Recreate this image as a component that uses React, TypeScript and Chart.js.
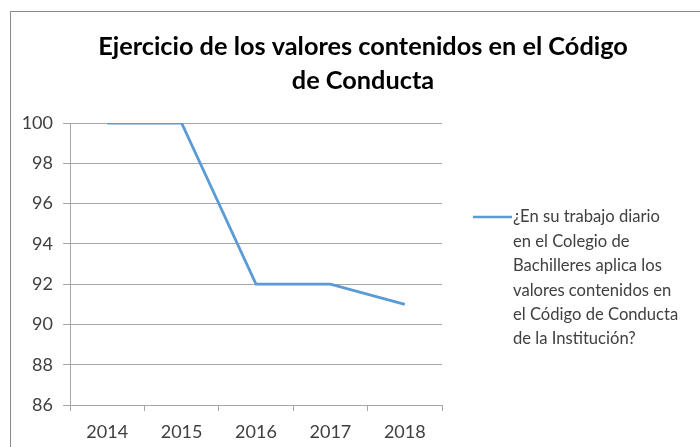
import React, { useEffect, useRef } from "react";
import { Chart, registerables } from "chart.js";

Chart.register(...registerables);

const TITLE_LINES = ["Ejercicio de los valores contenidos en el Código", "de Conducta"];
const YEARS = ["2014", "2015", "2016", "2017", "2018"];
const VALUES = [100, 100, 92, 92, 91];
const SERIES_LABEL_LINES = [
  "¿En su trabajo diario",
  "en el Colegio de",
  "Bachilleres aplica los",
  "valores contenidos en",
  "el Código de Conducta",
  "de la Institución?",
];
const Y_MIN = 86;
const Y_MAX = 100;
const Y_STEP = 2;

const LINE_COLOR = "#5B9BD5";
const GRID_COLOR = "#a6a6a6";
const TEXT_COLOR = "#404040";
const FONT = "Lato, 'Noto Sans', sans-serif";

const titlePlugin = {
  id: "customTitle",
  afterDraw(chart: any) {
    const { ctx } = chart;
    ctx.save();
    ctx.fillStyle = "#000";
    ctx.font = `bold 25.3px ${FONT}`;
    ctx.textAlign = "center";
    ctx.textBaseline = "middle";
    TITLE_LINES.forEach((t, i) => {
      ctx.fillText(t, 352, 35 + i * 34);
    });
    ctx.restore();
  },
};

const legendPlugin = {
  id: "sideLegend",
  afterDraw(chart: any) {
    const { ctx, chartArea } = chart;
    const x0 = chartArea.right + 31;
    const y0 = chartArea.top + 94;
    const lh = 24.4;
    ctx.save();
    ctx.strokeStyle = LINE_COLOR;
    ctx.lineWidth = 2.5;
    ctx.beginPath();
    ctx.moveTo(x0, y0);
    ctx.lineTo(x0 + 39, y0);
    ctx.stroke();
    ctx.fillStyle = TEXT_COLOR;
    ctx.font = `16.6px ${FONT}`;
    ctx.textBaseline = "middle";
    ctx.textAlign = "left";
    SERIES_LABEL_LINES.forEach((t, i) => {
      ctx.fillText(t, x0 + 40, y0 + i * lh);
    });
    ctx.restore();
  },
};

export default function App() {
  const ref = useRef<HTMLCanvasElement | null>(null);
  useEffect(() => {
    document.body.style.overflow = "hidden";
    const chart = new Chart(ref.current as HTMLCanvasElement, {
      type: "line",
      data: {
        labels: YEARS,
        datasets: [
          {
            label: SERIES_LABEL_LINES.join(" "),
            data: VALUES,
            borderColor: LINE_COLOR,
            backgroundColor: LINE_COLOR,
            borderWidth: 2.8,
            pointRadius: 0,
            tension: 0,
          },
        ],
      },
      options: {
        responsive: false,
        animation: false,
        layout: { padding: { left: 0, right: 275, top: 111, bottom: 0 } },
        plugins: {
          legend: { display: false },
          tooltip: { enabled: false },
          title: { display: false },
        },
        scales: {
          x: {
            offset: true,
            grid: {
              offset: true,
              drawOnChartArea: false,
              drawTicks: true,
              tickLength: 6,
              color: GRID_COLOR,
            },
            border: { color: GRID_COLOR },
            ticks: { color: TEXT_COLOR, font: { family: FONT, size: 18 }, padding: 10, maxRotation: 0 },
            afterFit: (s: any) => {
              s.height = 43;
            },
          },
          y: {
            min: Y_MIN,
            max: Y_MAX,
            grid: { color: GRID_COLOR, tickLength: 7 },
            border: { color: GRID_COLOR },
            ticks: {
              stepSize: Y_STEP,
              color: TEXT_COLOR,
              font: { family: FONT, size: 18 },
              padding: 10,
            },
            afterFit: (s: any) => {
              s.width = 59;
            },
          },
        },
      },
      plugins: [titlePlugin, legendPlugin],
    });
    return () => chart.destroy();
  }, []);
  return (
    <div
      style={{
        position: "absolute",
        left: 10,
        top: 11,
        width: 706,
        height: 436,
        borderLeft: "1px solid #8a8a8a",
        borderTop: "1px solid #8a8a8a",
        background: "#fff",
      }}
    >
      <canvas ref={ref} width={706} height={436} style={{ display: "block" }} />
    </div>
  );
}
